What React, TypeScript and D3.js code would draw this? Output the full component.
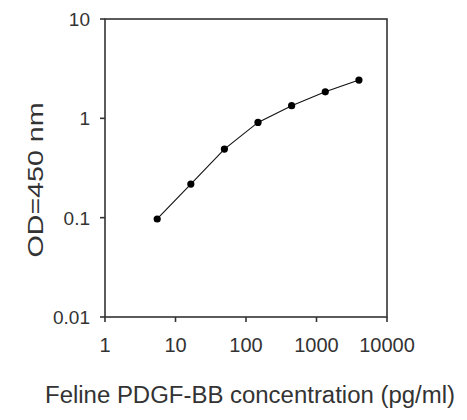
import * as d3 from "d3";

// standard curve, 3-fold dilution series
const concentrations = [5.5, 16.5, 49.4, 148, 444, 1333, 4000];
const odValues = [0.097, 0.218, 0.49, 0.91, 1.34, 1.85, 2.43];

const xTicks = [1, 10, 100, 1000, 10000];
const yTicks = [0.01, 0.1, 1, 10];

const xTitle = "Feline PDGF-BB concentration (pg/ml)";
const yTitle = "OD=450 nm";

const W = 467;
const H = 420;
const plot = { left: 105, right: 387, top: 19, bottom: 317 };
const ink = "#333";
const font = "'Liberation Sans', Arial, sans-serif";

const App = () => {
  const x = d3.scaleLog().domain([1, 10000]).range([plot.left, plot.right]);
  const y = d3.scaleLog().domain([0.01, 10]).range([plot.bottom, plot.top]);

  const points = concentrations.map((c, i) => [c, odValues[i]] as [number, number]);
  const line = d3
    .line<[number, number]>()
    .x((d) => x(d[0]))
    .y((d) => y(d[1]));

  return (
    <svg
      width={W}
      height={H}
      style={{ position: "absolute", left: 0, top: 0, background: "#fff" }}
      fontFamily={font}
    >
      <rect width={W} height={H} fill="#fff" />

      {/* frame */}
      <rect
        x={plot.left}
        y={plot.top}
        width={plot.right - plot.left}
        height={plot.bottom - plot.top}
        fill="none"
        stroke={ink}
        strokeWidth={1.6}
      />

      {/* y ticks */}
      {yTicks.map((t) => (
        <g key={"y" + t}>
          <line x1={plot.left - 5} x2={plot.left} y1={y(t)} y2={y(t)} stroke={ink} strokeWidth={1.6} />
          <text
            x={plot.left - 15}
            y={y(t)}
            dy="0.36em"
            textAnchor="end"
            fontSize={19}
            fill={ink}
          >
            {t}
          </text>
        </g>
      ))}

      {/* x ticks */}
      {xTicks.map((t) => (
        <g key={"x" + t}>
          <line x1={x(t)} x2={x(t)} y1={plot.bottom} y2={plot.bottom + 5} stroke={ink} strokeWidth={1.6} />
          <text x={x(t)} y={352} textAnchor="middle" fontSize={20} fill={ink}>
            {t}
          </text>
        </g>
      ))}

      {/* curve */}
      <path d={line(points) ?? ""} fill="none" stroke="#111" strokeWidth={1.1} />
      {points.map((d, i) => (
        <circle key={i} cx={x(d[0])} cy={y(d[1])} r={3.6} fill="#000" />
      ))}

      {/* titles */}
      <text
        x={250}
        y={403}
        textAnchor="middle"
        fontSize={23.5}
        fill={ink}
        textLength={410}
        lengthAdjust="spacingAndGlyphs"
      >
        {xTitle}
      </text>
      <text
        transform={`translate(43,180) rotate(-90)`}
        textAnchor="middle"
        fontSize={22}
        fill={ink}
        textLength={155}
        lengthAdjust="spacingAndGlyphs"
      >
        {yTitle}
      </text>
    </svg>
  );
};

export default App;
